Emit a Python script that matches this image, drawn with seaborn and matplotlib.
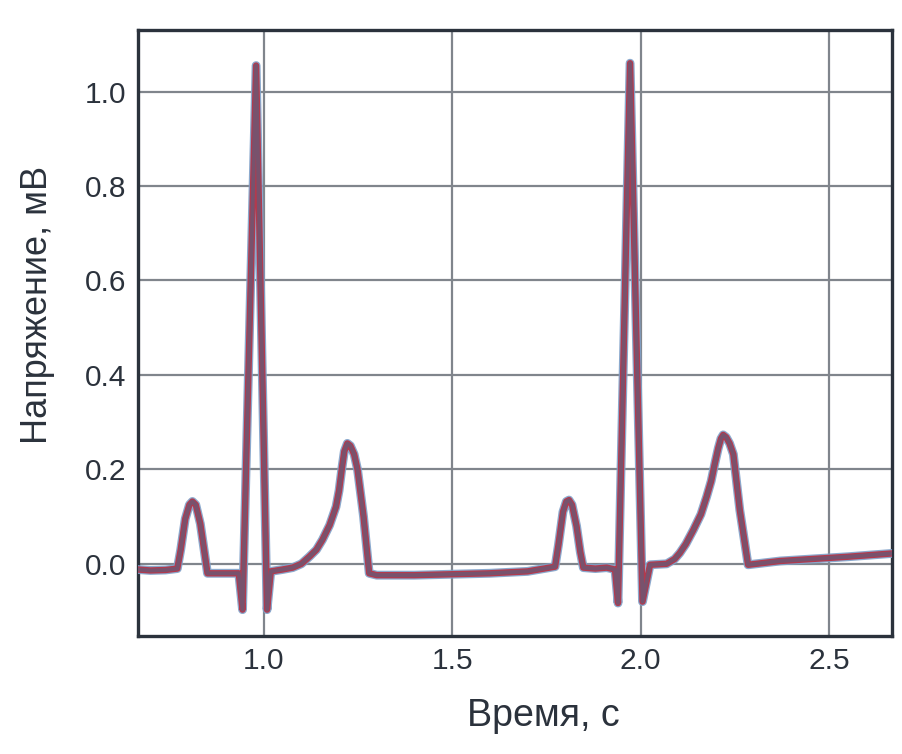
import numpy as np
import pandas as pd
import matplotlib
matplotlib.use("Agg")
import matplotlib.pyplot as plt
import seaborn as sns

# ECG trace (time in s, voltage in mV)
time_s = [0.666, 0.70, 0.74, 0.771, 0.780, 0.792, 0.803, 0.811, 0.820, 0.832, 0.842, 0.851,
          0.90, 0.934, 0.944, 0.980, 1.009, 1.019, 1.05, 1.077, 1.10, 1.121, 1.14, 1.156,
          1.175, 1.192, 1.200, 1.208, 1.214, 1.222, 1.230, 1.240, 1.249, 1.265, 1.280, 1.30,
          1.40, 1.50, 1.60, 1.70, 1.773, 1.782, 1.794, 1.803, 1.810, 1.818, 1.830, 1.840, 1.848,
          1.88, 1.91, 1.932, 1.940, 1.972, 2.005, 2.025, 2.069, 2.09, 2.104, 2.12,
          2.140, 2.16, 2.175, 2.187, 2.197, 2.206, 2.213, 2.219, 2.227, 2.236, 2.246, 2.263, 2.285,
          2.37, 2.45, 2.55, 2.667]
voltage_mv = [-0.012, -0.014, -0.013, -0.010, 0.030, 0.095, 0.125, 0.132, 0.125, 0.085, 0.030, -0.020,
              -0.020, -0.020, -0.097, 1.055, -0.097, -0.016, -0.012, -0.008, 0.000, 0.015, 0.030, 0.051,
              0.082, 0.121, 0.155, 0.205, 0.238, 0.255, 0.250, 0.232, 0.200, 0.100, -0.020, -0.024,
              -0.024, -0.022, -0.020, -0.016, -0.006, 0.040, 0.110, 0.132, 0.135, 0.125, 0.080, 0.025, -0.008,
              -0.010, -0.008, -0.012, -0.083, 1.060, -0.080, -0.002, 0.000, 0.010, 0.023, 0.042,
              0.072, 0.105, 0.142, 0.175, 0.213, 0.245, 0.265, 0.273, 0.268, 0.255, 0.232, 0.114, -0.002,
              0.006, 0.010, 0.015, 0.022]

x_ticks = [1.0, 1.5, 2.0, 2.5]
y_ticks = [0.0, 0.2, 0.4, 0.6, 0.8, 1.0]
x_label = "Время, с"
y_label = "Напряжение, мВ"

df = pd.DataFrame({"t": time_s, "v": voltage_mv})

sns.set_theme(style="white")
plt.rcParams["font.family"] = ["Liberation Sans", "DejaVu Sans"]

fig = plt.figure(figsize=(9.02, 7.54), dpi=100)
ax = fig.add_axes([0.1527, 0.157, 0.8363, 0.803])

dark = "#2b323c"
grid_c = "#80858c"

sns.lineplot(data=df, x="t", y="v", sort=False, ax=ax, color="#7fa0c8",
             linewidth=6.4, alpha=0.9, zorder=3)
sns.lineplot(data=df, x="t", y="v", sort=False, ax=ax, color="#b23a4e",
             linewidth=4.6, zorder=4)
sns.lineplot(data=df, x="t", y="v", sort=False, ax=ax, color="#6e5773",
             linewidth=2.8, alpha=0.85, zorder=5)

ax.set_xlim(0.666, 2.667)
ax.set_ylim(-0.152, 1.130)
ax.set_xticks(x_ticks)
ax.set_yticks(y_ticks)
ax.set_xticklabels([f"{v:.1f}" for v in x_ticks])
ax.set_yticklabels([f"{v:.1f}" for v in y_ticks])
ax.grid(True, color=grid_c, linewidth=1.6, zorder=1)
ax.set_axisbelow(True)
ax.tick_params(axis="both", which="both", length=0, labelsize=21.5,
               labelcolor=dark, pad=8)
for s in ax.spines.values():
    s.set_color(dark)
    s.set_linewidth(2.4)
    s.set_visible(True)

ax.set_xlabel(x_label, fontsize=27, color=dark)
ax.set_ylabel(y_label, fontsize=26, color=dark)
ax.xaxis.set_label_coords(0.537, -0.103)
ax.yaxis.set_label_coords(-0.110, 0.546)

fig.savefig("out.png", dpi=100, facecolor="white")
